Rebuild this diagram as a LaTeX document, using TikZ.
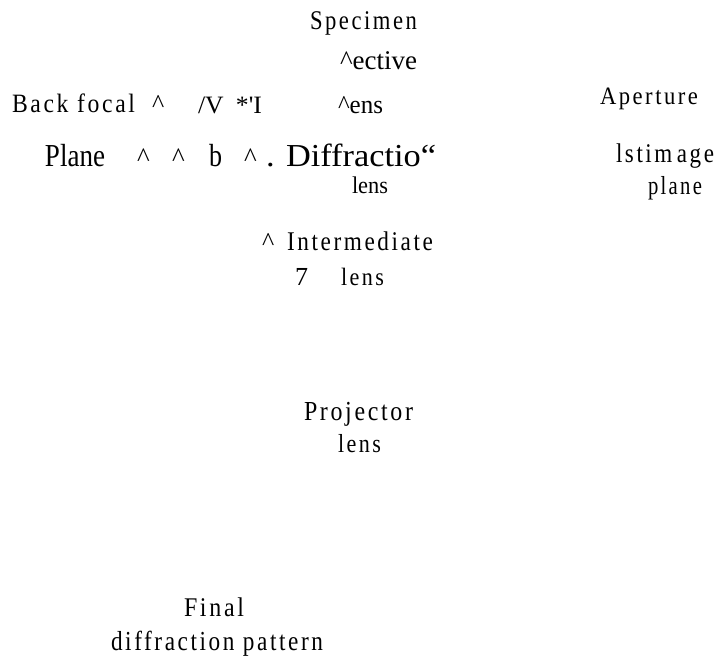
\documentclass[tikz,border=0pt]{standalone}
\usepackage{graphicx}
\usepackage{fontspec}
\setmainfont{Liberation Serif}
% tracked, condensed labels and plain labels
\newfontfamily\spacedfont[LetterSpace=9.5,FakeStretch=0.85]{Liberation Serif}
\newfontfamily\plainfont{Liberation Serif}
% set a label to a given width, keeping its height
\newcommand{\wbox}[2]{\resizebox{#1}{\height}{#2}}
\begin{document}
\begin{tikzpicture}[x=1pt,y=-1pt,
  sp/.style={anchor=base west,inner sep=0pt,outer sep=0pt,font=\spacedfont\fontsize{#1}{#1}\selectfont},
  sp/.default=27,
  pl/.style={anchor=base west,inner sep=0pt,outer sep=0pt,font=\plainfont\fontsize{#1}{#1}\selectfont},
  pl/.default=26]
\useasboundingbox (0,0) rectangle (722,665);
% objective lens region
\node[sp=27]   (spec)  at (310,29)  {\wbox{107pt}{Specimen}};
\node[pl=27]   (obj)   at (340,69)  {\wbox{77pt}{\textasciicircum ective}};
\node[sp=26.5] (bfp)   at (12,112)  {\wbox{123pt}{Back focal}};
\node[pl=26]   (c0)    at (152,112) {\textasciicircum};
\node[pl=25]   (mark)  at (198,113) {\wbox{64pt}{/V\hspace{12pt}*'I}};
\node[pl=26]   (objl)  at (338,113) {\wbox{45pt}{\textasciicircum ens}};
\node[sp=25]   (ap)    at (600,104) {\wbox{98pt}{Aperture}};
% back focal plane row
\node[pl=32]   (pln)   at (45,166)  {\wbox{60pt}{Plane}};
\node[pl=27]   (c1)    at (137,166) {\textasciicircum};
\node[pl=27]   (c2)    at (172,166) {\textasciicircum};
\node[pl=32]   (bb)    at (209,166) {\wbox{13pt}{b}};
\node[pl=27]   (c3)    at (244,166) {\textasciicircum};
\node[pl=32]   (dif)   at (266,166) {\wbox{170pt}{. Diffractio“}};
\node[pl=24]   (difl)  at (352,193) {\wbox{36pt}{lens}};
\node[sp=27]   (fi)    at (616,162) {\wbox{98pt}{lstim\,age}};
\node[sp=26]   (fip)   at (648,194) {\wbox{54pt}{plane}};
% intermediate lens
\node[pl=26]   (c4)    at (262,250) {\textasciicircum};
\node[sp=27]   (inter) at (287,250) {\wbox{146pt}{Intermediate}};
\node[pl=26]   (seven) at (295,285) {7};
\node[sp=25]   (interl) at (341,285) {\wbox{43pt}{lens}};
% projector lens
\node[sp=27.5] (proj)  at (304,420) {\wbox{109pt}{Projector}};
\node[sp=26]   (projl) at (338,452) {\wbox{43pt}{lens}};
% final diffraction pattern
\node[sp=27]   (fin)   at (184,616) {\wbox{60pt}{Final}};
\node[sp=27.5] (finp)  at (111,650) {\wbox{212pt}{diffraction pattern}};
\end{tikzpicture}
\end{document}
